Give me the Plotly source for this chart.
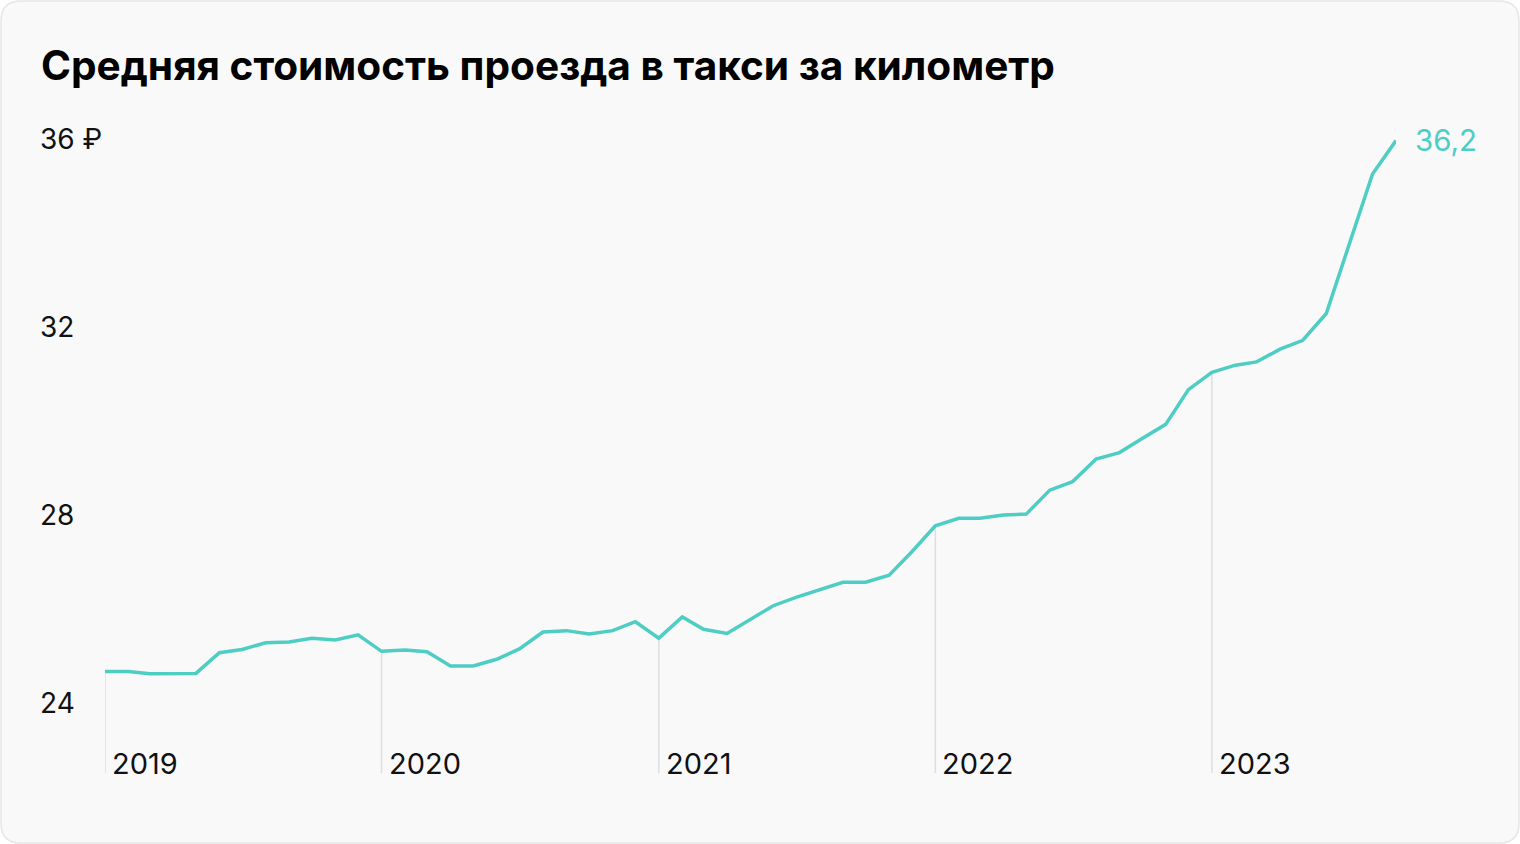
import plotly.graph_objects as go

months = [f"{y}-{m:02d}-01" for y in range(2019, 2024) for m in range(1, 13)][:57]
values = [24.90, 24.90, 24.85, 24.85, 24.86, 25.30, 25.37, 25.51, 25.53, 25.61, 25.57, 25.68,
          25.33, 25.36, 25.32, 25.02, 25.02, 25.16, 25.38, 25.74, 25.77, 25.70, 25.77, 25.96,
          25.61, 26.06, 25.80, 25.71, 26.00, 26.30, 26.48, 26.64, 26.80, 26.80, 26.95, 27.45,
          28.00, 28.16, 28.16, 28.23, 28.25, 28.76, 28.94, 29.42, 29.56, 29.86, 30.16, 30.90,
          31.27, 31.42, 31.49, 31.76, 31.95, 32.52, 34.00, 35.49, 36.20]
year_labels = ["2019", "2020", "2021", "2022", "2023"]
y_ticks = [24, 28, 32, 36]
y_tick_text = ["24", "28", "32", "36 ₽"]
title = "Средняя стоимость проезда в такси за километр"
last_label = "36,2"

W, H = 1520, 844
Y_MIN, Y_MAX = 22.74, 37.0
TEAL = "#4ecdc4"
FONT = "Inter"

fig = go.Figure()

# drop lines at each January
dx, dy = [], []
for yl in year_labels:
    d = f"{yl}-01-01"
    v = values[months.index(d)]
    dx += [d, d, None]
    dy += [v, Y_MIN, None]
fig.add_trace(go.Scatter(x=dx, y=dy, mode="lines", line=dict(color="#dedede", width=1.5),
                         hoverinfo="skip", showlegend=False, cliponaxis=False))

fig.add_trace(go.Scatter(x=months, y=values, mode="lines",
                         line=dict(color=TEAL, width=3.5, shape="linear"),
                         showlegend=False, cliponaxis=False))

annotations = []
annotations.append(dict(text=f"<b>{title}</b>", xref="paper", yref="paper",
                        x=39 / W, y=(H - 65) / H, xanchor="left", yanchor="middle",
                        showarrow=False, font=dict(family=FONT, size=40.6, color="#000")))
for v, t in zip(y_ticks, y_tick_text):
    annotations.append(dict(text=t, xref="paper", yref="y", x=38 / W, y=v,
                            xanchor="left", yanchor="bottom", yshift=-8, showarrow=False,
                            font=dict(family=FONT, size=28, color="#111")))
for yl in year_labels:
    annotations.append(dict(text=yl, xref="x", yref="y", x=f"{yl}-01-01", y=Y_MIN,
                            xanchor="left", yanchor="bottom", xshift=5, yshift=-10,
                            showarrow=False, font=dict(family=FONT, size=29, color="#111")))
annotations.append(dict(text=last_label, xref="x", yref="y", x=months[-1], y=values[-1],
                        xanchor="left", yanchor="middle", xshift=17, yshift=1, showarrow=False,
                        font=dict(family=FONT, size=29.5, color=TEAL)))

# rounded card background
x0, y0, x1, y1, r = 1 / W, 1 - 1 / H, 1 - 1 / W, 1 / H, 20
rx, ry = r / W, r / H
path = (f"M {x0 + rx},{y0} L {x1 - rx},{y0} Q {x1},{y0} {x1},{y0 - ry} "
        f"L {x1},{y1 + ry} Q {x1},{y1} {x1 - rx},{y1} L {x0 + rx},{y1} "
        f"Q {x0},{y1} {x0},{y1 + ry} L {x0},{y0 - ry} Q {x0},{y0} {x0 + rx},{y0} Z")

fig.update_layout(
    width=W, height=H, margin=dict(l=0, r=0, t=0, b=0),
    paper_bgcolor="white", plot_bgcolor="rgba(0,0,0,0)",
    shapes=[dict(type="path", path=path, xref="paper", yref="paper",
                 fillcolor="#f9f9f9", line=dict(color="#e6e6e6", width=1.5), layer="below")],
    annotations=annotations,
    xaxis=dict(type="date", domain=[105 / W, 1396 / W], range=[months[0], months[-1]],
               showgrid=False, zeroline=False, showticklabels=False, showline=False),
    yaxis=dict(domain=[71 / H, 741 / H], range=[Y_MIN, Y_MAX], showgrid=False,
               zeroline=False, showticklabels=False, showline=False),
    font=dict(family=FONT),
    hovermode=False,
)

fig.write_html("out.html", config={"displayModeBar": False})
